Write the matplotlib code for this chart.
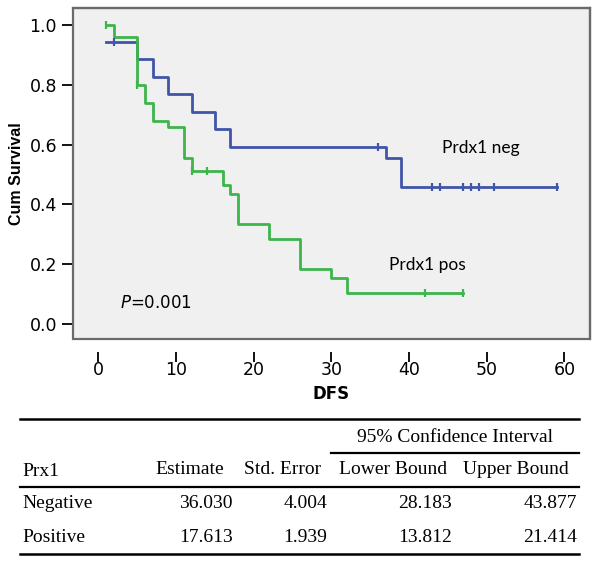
import numpy as np
import matplotlib
matplotlib.use('Agg')
import matplotlib.pyplot as plt
from matplotlib.patches import Rectangle
from matplotlib.lines import Line2D

plt.rcParams['mathtext.fontset'] = 'custom'
plt.rcParams['mathtext.it'] = 'DejaVu Sans:italic'
plt.rcParams['mathtext.rm'] = 'DejaVu Sans'

# Kaplan-Meier curves
neg_times = [1, 5, 7, 9, 12, 15, 17, 37, 39, 59]
neg_surv = [0.943, 0.886, 0.826, 0.768, 0.708, 0.651, 0.591, 0.557, 0.460, 0.460]
neg_censor = [2, 36, 43, 44, 47, 48, 49, 51, 59]

pos_times = [1, 2, 5, 6, 7, 9, 11, 12, 16, 17, 18, 22, 26, 30, 32, 47]
pos_surv = [1.0, 0.96, 0.80, 0.74, 0.68, 0.66, 0.557, 0.513, 0.466, 0.436,
            0.336, 0.285, 0.185, 0.154, 0.104, 0.104]
pos_censor = [1, 5, 12, 14, 42, 47]

# table
col_headers = ['Estimate', 'Std. Error', 'Lower Bound', 'Upper Bound']
row_labels = ['Negative', 'Positive']
estimate = ['36.030', '17.613']
std_err = ['4.004', '1.939']
lower = ['28.183', '13.812']
upper = ['43.877', '21.414']

blue = '#4055a8'
green = '#3cb54a'

W, H = 600, 563
fig = plt.figure(figsize=(W / 100, H / 100), dpi=100)
ax = fig.add_axes([73 / W, 1 - 339 / H, (590 - 73) / W, (339 - 8) / H])
ax.set_facecolor('#f0f0f0')


def surv_at(times, surv, t):
    i = np.searchsorted(times, t, side='right') - 1
    return np.asarray(surv)[i]


for times, surv, cens, c in [(neg_times, neg_surv, neg_censor, blue),
                             (pos_times, pos_surv, pos_censor, green)]:
    ax.step(times, surv, where='post', color=c, lw=2.0, zorder=3)
    ax.plot(cens, surv_at(times, surv, cens), ls='none', marker='|',
            ms=6, mew=1.6, color=c, zorder=4)

ax.set_xlim(-3.28, 63.3)
ax.set_ylim(-0.050, 1.057)
ax.set_xticks(range(0, 61, 10))
ax.set_yticks(np.arange(0, 1.01, 0.2))
ax.yaxis.set_major_formatter(matplotlib.ticker.FormatStrFormatter('%.1f'))

for s in ['top', 'right']:
    ax.spines[s].set_color('#7a7a7a')
    ax.spines[s].set_linewidth(1.6)
ax.spines['left'].set_color('#111111')
ax.spines['left'].set_linewidth(1.4)
ax.spines['bottom'].set_position(('outward', 9))
ax.spines['bottom'].set_visible(False)
ax.add_patch(Rectangle((0, 0), 1, 1, transform=ax.transAxes, fill=False,
                       ec='#6a6a6a', lw=1.6, clip_on=False, zorder=5))

ax.tick_params(axis='y', length=8, width=1.4, pad=3.5, labelsize=12.5,
               color='#111111')
ax.tick_params(axis='x', length=7, width=1.4, pad=0, labelsize=12.5,
               color='#111111')
for lab in ax.get_xticklabels() + ax.get_yticklabels():
    lab.set_family('DejaVu Sans')

ax.set_ylabel('Cum Survival', fontsize=11.5, fontweight='bold',
              family='Liberation Sans', labelpad=4)
ax.set_xlabel('DFS', fontsize=12, fontweight='bold',
              family='DejaVu Sans', labelpad=4)

ax.text(49.2, 0.59, 'Prdx1 neg', fontsize=12.5, family='Lato',
        ha='center', va='center')
ax.text(42.4, 0.198, 'Prdx1 pos', fontsize=12.5, family='Lato',
        ha='center', va='center')
ax.text(2.8, 0.07, r'$\mathit{P}$=0.001', fontsize=12,
        family='DejaVu Sans', ha='left', va='center')


# table below, positions in pixels
def fx(x):
    return x / W


def fy(y):
    return 1 - y / H


def hline(x0, x1, y, lw=1.6):
    fig.add_artist(Line2D([fx(x0), fx(x1)], [fy(y), fy(y)],
                          transform=fig.transFigure, color='black', lw=lw))


def ttext(x, y, s, ha='right'):
    fig.text(fx(x), fy(y), s, ha=ha, va='center', fontsize=14,
             family='Liberation Serif')


hline(20, 579, 419, lw=1.8)
hline(331, 579, 453)
hline(20, 579, 487)
hline(20, 579, 554, lw=1.8)

ttext(455, 437, '95% Confidence Interval', ha='center')
ttext(22, 472, 'Prx1', ha='left')
for x, h in zip([224, 321, 447, 569], col_headers):
    ttext(x, 470, h)

for y, lab, e, s, lo, up in zip([504, 537], row_labels, estimate, std_err,
                                lower, upper):
    ttext(22, y, lab, ha='left')
    ttext(233, y, e)
    ttext(327, y, s)
    ttext(452, y, lo)
    ttext(577, y, up)

fig.savefig('out.png', dpi=100)
